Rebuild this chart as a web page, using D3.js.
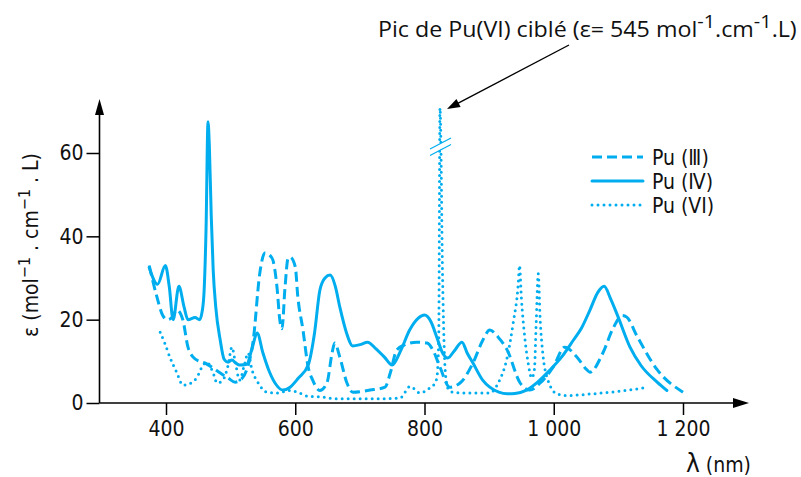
<!DOCTYPE html>
<html><head><meta charset="utf-8">
<script src="https://cdn.jsdelivr.net/npm/d3@7"></script>
<style>
html,body{margin:0;padding:0;background:#fff;}
svg{display:block;}
</style></head><body>
<svg id="chart" width="801" height="477"></svg>
<script>
// ---- data ----
const xTicks = [400, 600, 800, 1000, 1200];
const yTicks = [0, 20, 40, 60];
const seriesNames = ["Pu (Ⅲ)", "Pu (Ⅳ)", "Pu (VI)"];

const pu3_nm  = [374,385,395,402,409,417,426,434,442,452,460,471,484,496,507,515,525,535,545,553,564,572,576,579.5,584,589,592,600,604,612,620,627,638,649,657,661,669,680,689,716,739,747,757,770,788,804,813,824,839,855,875,890,901,914,928,948,963,979,999,1017,1036,1051,1056,1076,1092,1106,1113,1129,1160,1200];
const pu3_eps = [33,26,21,20,20.5,22.3,20,13.4,11,10,9.6,8.6,7.2,6,5,5.5,8,15,31,36,34.8,27.4,20,17.8,27.4,34.8,35,32.7,25.5,17.5,8.6,5.5,3,4.8,12,14.4,11,4.8,2.6,3.1,3.8,7.2,12.7,14,14.6,14.4,12.7,8.6,3.8,4.8,9.6,15,17.5,15.8,12.7,4.8,3.1,4.8,8.6,13.4,11,8,7.4,12,18,21,20.6,16,8,2.6];

const pu4_nm  = [374,387,399,405,411,420,428,434,445,452,456,459,462,465,467,470,473,477,484,490,496,502,508,514,525,533,541,550,560,570,581,592,605,620,630,638,646,654,662,669,679,689,700,712,725,738,750,763,777,790,800,810,819,828,836,846,858,866,875,890,901,915,928,940,958,975,994,1012,1030,1043,1056,1068,1078,1088,1100,1118,1135,1160,1175];
const pu4_eps = [32.5,28.5,33,28,20,28,23,20,20.5,20,22,27,42,67.5,62,45,32,23,15,10.5,9.8,10.3,9.6,9.1,9.3,13,16.8,12,7.5,4.5,3.1,3.8,6,9.1,17,27,30,30.7,28,23,17,13.7,14,14.6,13,11,9.1,12.5,17.5,20.3,21.1,19.5,15.8,12,10.8,12.5,14.6,12,9.6,5.5,3.8,2.6,2.2,2.3,3.1,5,7.9,11,15,18,22.3,26.5,28,25,20.5,13.4,9,5,3];

const pu6_nm  = [391,398,406,417,426,434,448,457,463,473,479,488,496,502,507,514,521,527,533,542,556,572,592,607,620,638,665,696,726,762,778,793,808,815,819,822,824,828,831,834,838,844,859,881,901,914,928,937,945,947,950,955,960,966,970,973,976,979,983,991,1005,1020,1060,1100,1138];
const pu6_eps = [17,14.4,11,7.2,4.3,4.5,6.2,9,9.8,7.2,4.8,5.5,9,13.4,10,5.5,9,12,8,5,2.6,2.4,3,2.4,1.6,1.5,1.0,1.0,1.0,1.2,4,2.4,3.6,4.5,6,15,545,30,11,5,3,2.6,2.4,2.4,2.4,4.8,11,19,28.5,33,25,16,10,6,8,20,31,20,12,5.5,2.2,1.8,2.2,2.8,3.6];

const breakCap = 70.8; // drawn height of the broken Pu(VI) peak

// ---- drawing ----
const color = "#00aeef";
const numFont = '"DejaVu Sans Condensed","DejaVu Sans",sans-serif';
const svg = d3.select("#chart");
const x = d3.scaleLinear().domain([400, 1200]).range([166, 683]);
const y = d3.scaleLinear().domain([0, 60]).range([403, 153]);
const X0 = 99.5, Y0 = 403;

// axes
const gx = svg.append("g").attr("transform", `translate(0,${Y0})`)
  .call(d3.axisBottom(x).tickValues(xTicks).tickSize(12).tickPadding(6)
    .tickFormat(d => d >= 1000 ? d3.format(",")(d).replace(",", " ") : String(d)));
gx.select(".domain").remove();
gx.selectAll("line").attr("stroke", "#000").attr("stroke-width", 1.5);
gx.selectAll("text").attr("font-family", numFont).attr("font-stretch", "condensed").attr("font-size", 21).attr("fill", "#111");

const gy = svg.append("g").attr("transform", `translate(${X0},0)`)
  .call(d3.axisLeft(y).tickValues(yTicks).tickSize(13).tickPadding(3));
gy.select(".domain").remove();
gy.selectAll("line").attr("stroke", "#000").attr("stroke-width", 1.5);
gy.selectAll("text").attr("font-family", numFont).attr("font-stretch", "condensed").attr("font-size", 21).attr("fill", "#111");

svg.append("line").attr("x1", X0).attr("x2", 736).attr("y1", Y0).attr("y2", Y0).attr("stroke", "#000").attr("stroke-width", 1.6);
svg.append("path").attr("d", `M749,${Y0} L733,${Y0-5} L733,${Y0+5} Z`).attr("fill", "#000");
svg.append("line").attr("x1", X0).attr("x2", X0).attr("y1", Y0).attr("y2", 112).attr("stroke", "#000").attr("stroke-width", 1.6);
svg.append("path").attr("d", `M${X0},99 L${X0-4.5},115 L${X0+4.5},115 Z`).attr("fill", "#000");

// axis titles
const yl = svg.append("text").attr("transform", "translate(38,245) rotate(-90)")
  .attr("text-anchor", "middle").attr("font-family", numFont).attr("font-stretch", "condensed").attr("font-size", 21).attr("fill", "#111");
yl.append("tspan").text("ε (mol");
yl.append("tspan").attr("dy", -8).attr("font-size", 16).text("−1");
yl.append("tspan").attr("dy", 8).text(" . cm");
yl.append("tspan").attr("dy", -8).attr("font-size", 16).text("−1");
yl.append("tspan").attr("dy", 8).text(" . L)");

const xl = svg.append("text").attr("x", 686).attr("y", 472).attr("font-family", numFont).attr("font-stretch", "condensed").attr("fill", "#111");
xl.append("tspan").attr("font-size", 26).text("λ");
xl.append("tspan").attr("font-size", 21).text(" (nm)");

// curves
const line = d3.line().curve(d3.curveMonotoneX)
  .x(d => x(d[0])).y(d => y(Math.min(d[1], breakCap)));
const series = [
  { nm: pu3_nm, eps: pu3_eps, dash: "10 5", cap: "butt" },
  { nm: pu4_nm, eps: pu4_eps, dash: null, cap: "round" },
  { nm: pu6_nm, eps: pu6_eps, dash: "0 6", cap: "round" }
];
series.forEach(s => {
  const pts = s.nm.map((v, i) => [v, s.eps[i]]);
  svg.append("path").attr("d", line(pts)).attr("fill", "none").attr("stroke", color)
    .attr("stroke-width", 3).attr("stroke-dasharray", s.dash).attr("stroke-linecap", s.cap)
    .attr("stroke-linejoin", "round");
});

// break marks on the Pu(VI) peak
const peakIdx = pu6_eps.indexOf(d3.max(pu6_eps));
const bx = x(pu6_nm[peakIdx]) + 1, by = 146;
svg.append("path").attr("d", `M${bx-10},${by+2.5} L${bx+11},${by-8.5} L${bx+11},${by-2.5} L${bx-10},${by+8.5} Z`).attr("fill", "#fff");
[0, 6.5].forEach(o => svg.append("line").attr("x1", bx - 11).attr("y1", by + 3 + o).attr("x2", bx + 10).attr("y2", by - 8 + o)
  .attr("stroke", color).attr("stroke-width", 1.2));

// legend
const leg = svg.append("g");
series.forEach((s, i) => {
  const ly = 157 + i * 24;
  leg.append("line").attr("x1", 592).attr("x2", 643).attr("y1", ly).attr("y2", ly)
    .attr("stroke", color).attr("stroke-width", 3).attr("stroke-dasharray", s.dash).attr("stroke-linecap", s.cap);
  leg.append("text").attr("x", 652).attr("y", ly + 8).attr("font-family", numFont).attr("font-stretch", "condensed")
    .attr("font-size", 21).attr("fill", "#111").text(seriesNames[i]);
});

// annotation
const ann = svg.append("text").attr("x", 378).attr("y", 37).attr("font-family", '"Liberation Sans Narrow","Open Sans",sans-serif')
  .attr("font-size", 21).attr("fill", "#111");
ann.append("tspan").text("Pic de Pu(VI) ciblé (ε= 545 mol");
ann.append("tspan").attr("dy", -9).attr("font-size", 18).text("-1");
ann.append("tspan").attr("dy", 9).text(".cm");
ann.append("tspan").attr("dy", -9).attr("font-size", 18).text("-1");
ann.append("tspan").attr("dy", 9).text(".L)");
const bw = ann.node().getBBox().width;
const sc = 419 / bw;
ann.attr("transform", `translate(${378 - 378 * sc},0) scale(${sc},1)`);

const ax1 = 569, ay1 = 45, ax2 = x(pu6_nm[peakIdx]) + 7, ay2 = 109;
const ang = Math.atan2(ay2 - ay1, ax2 - ax1);
svg.append("line").attr("x1", ax1).attr("y1", ay1).attr("x2", ax2 - 10 * Math.cos(ang)).attr("y2", ay2 - 10 * Math.sin(ang))
  .attr("stroke", "#000").attr("stroke-width", 1.4);
const hl = 13, hw = 4.5;
const bxh = ax2 - hl * Math.cos(ang), byh = ay2 - hl * Math.sin(ang);
svg.append("path").attr("d",
  `M${ax2},${ay2} L${bxh + hw * Math.sin(ang)},${byh - hw * Math.cos(ang)} L${bxh - hw * Math.sin(ang)},${byh + hw * Math.cos(ang)} Z`)
  .attr("fill", "#000");
</script>
</body></html>
